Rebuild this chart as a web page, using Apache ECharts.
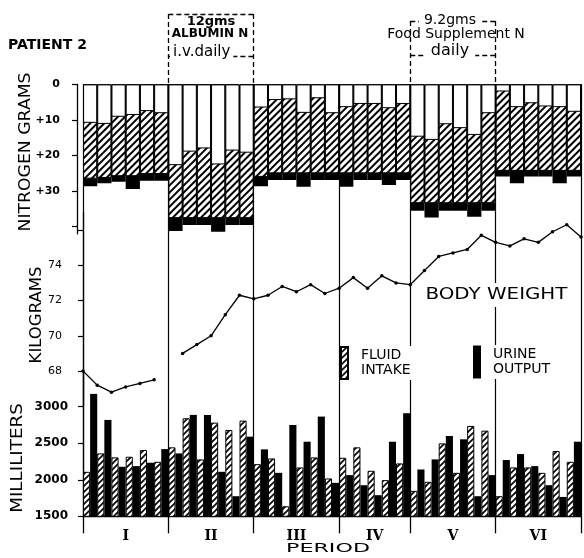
<!DOCTYPE html>
<html>
<head>
<meta charset="utf-8">
<script src="https://cdn.jsdelivr.net/npm/echarts@6.0.0/dist/echarts.min.js"></script>
<style>
html,body{margin:0;padding:0;background:#fff;}
#chart{width:584px;height:558px;}
</style>
</head>
<body>
<div id="chart"></div>
<script>
// ---------------- data ----------------
const periodLabels = ['I', 'II', 'III', 'IV', 'V', 'VI'];
const periodDays = [6, 6, 6, 5, 6, 6];

const nitrogenTickValues = [0, 10, 20, 30, 40];
const nitrogenTickLabels = ['0', '+10', '+20', '+30', ''];
const kgTickValues = [68, 70, 72, 74, 76];
const kgTickLabels = ['68', '70', '72', '74', ''];
const mlTickValues = [1500, 2000, 2500, 3000];
const mlTickLabels = ['1500', '2000', '2500', '3000'];

// Nitrogen grams, plotted downward from the zero line, one value per day
// depth of the white (retained) column = top of the hatched urinary N
const nBalanceDepth = [10.8, 11.1, 9.1, 8.6, 7.5, 8.1,
  22.7, 18.9, 18.0, 22.5, 18.6, 19.2,
  6.5, 4.4, 4.2, 8.0, 3.9, 8.1,
  6.4, 5.5, 5.5, 6.7, 5.5,
  14.7, 15.6, 11.2, 12.3, 14.2, 8.1,
  2.0, 6.4, 5.3, 6.2, 6.4, 7.7];
// bottom of the hatched urinary N
const nUrineDepth = [26.5, 26.3, 25.8, 25.8, 25.2, 25.2,
  37.6, 37.6, 37.6, 37.6, 37.6, 37.6,
  26.0, 25.0, 25.0, 25.0, 25.0, 25.0,
  25.0, 25.0, 25.0, 25.0, 25.0,
  33.4, 33.4, 33.4, 33.4, 33.4, 33.4,
  24.3, 24.3, 24.3, 24.3, 24.3, 24.3];
// bottom of the black (fecal N) = intake
const nIntakeDepth = [28.6, 27.8, 27.4, 29.4, 27.1, 27.1,
  41.2, 39.5, 39.5, 41.4, 39.5, 39.5,
  28.6, 26.9, 26.9, 28.8, 26.9, 26.9,
  28.8, 26.9, 26.9, 28.3, 26.9,
  35.5, 37.4, 35.5, 35.5, 37.2, 35.5,
  25.9, 27.8, 25.9, 25.9, 27.8, 25.9];

// Body weight, kg, at the day boundaries (0 .. 35); no reading at boundary 6
const bodyWeight = [68.0, 67.2, 66.8, 67.1, 67.3, 67.5, null,
  69.0, 69.5, 70.0, 71.2, 72.3, 72.1,
  72.3, 72.8, 72.5, 72.9, 72.4, 72.7,
  73.3, 72.7, 73.4, 73.0, 72.9,
  73.7, 74.5, 74.7, 74.9, 75.7, 75.3,
  75.1, 75.5, 75.3, 75.9, 76.3, 75.6];

// Milliliters per day
const fluidIntake = [2109, 2361, 2306, 2315, 2407, 2246,
  2444, 2842, 2279, 2782, 2682, 2810,
  2214, 2292, 1637, 2169, 2306, 2018,
  2301, 2444, 2123, 1995, 2224,
  1848, 1972, 2498, 2095, 2737, 2672,
  1775, 2169, 2169, 2095, 2393, 2246];
const urineOutput = [3176, 2819, 2178, 2187, 2233, 2420,
  2361, 2888, 2888, 2109, 1775, 2590,
  2416, 2095, 2750, 2521, 2865, 1958,
  2064, 1926, 1789, 2521, 2911,
  2141, 2279, 2599, 2554, 1775, 2064,
  2270, 2352, 2187, 1926, 1765, 2521];

// ---------------- derived helpers ----------------
const bounds = [0];
periodDays.forEach(d => bounds.push(bounds[bounds.length - 1] + d));
const totalDays = bounds[bounds.length - 1];
const days = Array.from({length: totalDays}, (_, i) => String(i + 1));
const periodCenters = periodLabels.map((_, i) => (bounds[i] + bounds[i + 1]) / 2);

const FONT = 'DejaVu Sans';
const INK = '#000';

function hatchPattern() {
  const c = document.createElement('canvas');
  c.width = 6; c.height = 6;
  const g = c.getContext('2d');
  g.fillStyle = '#fff';
  g.fillRect(0, 0, 6, 6);
  g.strokeStyle = '#000';
  g.lineWidth = 1.6;
  g.beginPath();
  g.moveTo(-1, 7); g.lineTo(7, -1);
  g.moveTo(-1, 1); g.lineTo(1, -1);
  g.moveTo(5, 7); g.lineTo(7, 5);
  g.stroke();
  return {image: c, repeat: 'repeat'};
}

function lookup(vals, labels) {
  return v => {
    const i = vals.findIndex(x => Math.abs(x - v) < 1e-6);
    return i >= 0 ? labels[i] : '';
  };
}

function text(str, x, y, size, extra) {
  extra = extra || {};
  return {
    type: 'text', x: x, y: y, z: 100,
    rotation: extra.rotation || 0,
    scaleX: extra.scaleX || 1,
    style: Object.assign({
      text: str,
      font: (extra.weight || 'normal') + ' ' + size + 'px "' + (extra.family || FONT) + '"',
      fill: INK,
      align: extra.align || 'center', textAlign: extra.align || 'center',
      verticalAlign: 'middle', textVerticalAlign: 'middle'
    }, extra.bg ? {backgroundColor: '#fff', padding: extra.pad || [0, 3]} : {})
  };
}

const chart = echarts.init(document.getElementById('chart'), null, {renderer: 'canvas', width: 584, height: 558});

const gridBase = {left: 83, width: 498, outerBoundsMode: 'none', containLabel: false};

const yAxisCommon = {
  type: 'value', offset: 6, splitLine: {show: false},
  axisLine: {show: true, lineStyle: {color: INK, width: 1.3}},
  axisTick: {show: true, inside: false, length: 5, lineStyle: {color: INK, width: 1.2}},
  axisLabel: {color: INK, fontFamily: FONT}
};

const hatchDecal = {
  symbol: 'rect', symbolSize: 1, color: '#000', backgroundColor: '#fff',
  dashArrayX: [1, 0], dashArrayY: [1.6, 2.6], rotation: -Math.PI / 4
};

const option = {
  animation: false,
  backgroundColor: '#fff',
  grid: [
    Object.assign({top: 84.4, height: 149.4}, gridBase),   // nitrogen
    Object.assign({top: 212.4, height: 193.9}, gridBase),  // body weight
    Object.assign({top: 370.2, height: 146.1}, gridBase),  // milliliters
    Object.assign({top: 84, height: 432.3}, gridBase),     // period lines
    Object.assign({top: 0, height: 84}, gridBase)          // annotations
  ],
  xAxis: [
    {type: 'category', gridIndex: 0, data: days, show: false},
    {type: 'value', gridIndex: 1, min: 0, max: totalDays, show: false},
    {type: 'category', gridIndex: 2, data: days, show: false},
    {
      type: 'value', gridIndex: 2, min: 0, max: totalDays, position: 'bottom',
      splitLine: {show: false},
      axisLine: {show: true, lineStyle: {color: INK, width: 1.3}},
      axisTick: {show: true, customValues: bounds, length: 17, lineStyle: {color: INK, width: 1.3}},
      axisLabel: {
        customValues: periodCenters, margin: 13, color: INK,
        fontFamily: 'DejaVu Serif', fontWeight: 'bold', fontSize: 14,
        formatter: lookup(periodCenters, periodLabels)
      }
    },
    {type: 'value', gridIndex: 3, min: 0, max: totalDays, show: false},
    {type: 'value', gridIndex: 4, min: 0, max: totalDays, show: false}
  ],
  yAxis: [
    Object.assign({}, yAxisCommon, {
      gridIndex: 0, inverse: true, min: 0, max: 42,
      axisTick: Object.assign({}, yAxisCommon.axisTick, {customValues: nitrogenTickValues}),
      axisLabel: {customValues: nitrogenTickValues, margin: 17, color: INK, fontFamily: FONT, fontSize: 11, fontWeight: 'bold',
        formatter: lookup(nitrogenTickValues, nitrogenTickLabels)}
    }),
    Object.assign({}, yAxisCommon, {
      gridIndex: 1, min: 66, max: 77,
      axisTick: Object.assign({}, yAxisCommon.axisTick, {customValues: kgTickValues}),
      axisLabel: {customValues: kgTickValues, margin: 15, color: INK, fontFamily: FONT, fontSize: 11,
        formatter: lookup(kgTickValues, kgTickLabels)}
    }),
    Object.assign({}, yAxisCommon, {
      gridIndex: 2, min: 1500, max: 3500,
      axisTick: Object.assign({}, yAxisCommon.axisTick, {customValues: mlTickValues}),
      axisLabel: {customValues: mlTickValues, margin: 9, color: INK, fontFamily: FONT, fontSize: 12, fontWeight: 'bold',
        formatter: lookup(mlTickValues, mlTickLabels)}
    }),
    {type: 'value', gridIndex: 3, min: 0, max: 1, show: false},
    {type: 'value', gridIndex: 4, min: 0, max: 84, inverse: true, show: false}
  ],
  legend: [
    {
      data: ['FLUID INTAKE'], left: 340, top: 346, padding: 0, orient: 'vertical',
      itemWidth: 7, itemHeight: 32, icon: 'rect', selectedMode: false,
      formatter: n => n.replace(' ', '\n'),
      textStyle: {fontFamily: FONT, fontSize: 14, lineHeight: 15, color: INK, backgroundColor: '#fff', padding: [2, 2, 2, 8]}
    },
    {
      data: ['URINE OUTPUT'], left: 473, top: 345, padding: 0, orient: 'vertical',
      itemWidth: 8, itemHeight: 33, icon: 'rect', selectedMode: false,
      formatter: n => n.replace(' ', '\n'),
      textStyle: {fontFamily: FONT, fontSize: 14, lineHeight: 15, color: INK, backgroundColor: '#fff', padding: [2, 2, 2, 7]}
    }
  ],
  series: [
    // ---- nitrogen balance (overlaid columns, drawn from the zero line down) ----
    {
      name: 'Nitrogen intake (fecal N)', type: 'bar', xAxisIndex: 0, yAxisIndex: 0,
      data: nIntakeDepth, barCategoryGap: '0%', barGap: '-100%',
      itemStyle: {color: INK, borderColor: INK, borderWidth: 0}
    },
    {
      name: 'Urinary N', type: 'bar', xAxisIndex: 0, yAxisIndex: 0,
      data: nUrineDepth, barCategoryGap: '0%', barGap: '-100%',
      itemStyle: {color: hatchPattern(), borderColor: INK, borderWidth: 1, decal: hatchDecal}
    },
    {
      name: 'Retained N', type: 'bar', xAxisIndex: 0, yAxisIndex: 0,
      data: nBalanceDepth, barCategoryGap: '0%', barGap: '-100%',
      itemStyle: {color: '#fff', borderColor: INK, borderWidth: 1}
    },
    // ---- body weight ----
    {
      name: 'BODY WEIGHT', type: 'line', xAxisIndex: 1, yAxisIndex: 1, z: 5,
      data: bodyWeight.map((w, i) => [i, w]), connectNulls: false,
      symbol: 'circle', symbolSize: 3.5, showSymbol: true, clip: false,
      itemStyle: {color: INK}, lineStyle: {color: INK, width: 1.3}
    },
    // ---- fluid balance ----
    {
      name: 'FLUID INTAKE', type: 'bar', xAxisIndex: 2, yAxisIndex: 2,
      data: fluidIntake, barCategoryGap: '0%', barGap: '0%',
      itemStyle: {color: hatchPattern(), borderColor: INK, borderWidth: 1}
    },
    {
      name: 'URINE OUTPUT', type: 'bar', xAxisIndex: 2, yAxisIndex: 2,
      data: urineOutput, barCategoryGap: '0%', barGap: '0%',
      itemStyle: {color: INK, borderColor: INK, borderWidth: 0}
    },
    // ---- period boundary lines through the whole chart ----
    {
      name: 'Periods', type: 'lines', coordinateSystem: 'cartesian2d', xAxisIndex: 4, yAxisIndex: 3,
      silent: true, z: 3,
      lineStyle: {color: INK, width: 1.2, opacity: 1, type: 'solid'},
      data: bounds.map(b => ({coords: [[b, 0], [b, 1]]}))
    },
    // ---- dashed boxes of the supplement periods ----
    {
      name: 'Supplements', type: 'lines', coordinateSystem: 'cartesian2d', xAxisIndex: 5, yAxisIndex: 4,
      silent: true, z: 3,
      lineStyle: {color: INK, width: 1.3, opacity: 1, type: [5, 3]},
      data: [
        {coords: [[bounds[1], 14], [bounds[2], 14]]},
        {coords: [[bounds[1], 14], [bounds[1], 84]]},
        {coords: [[bounds[2], 14], [bounds[2], 84]]},
        {coords: [[bounds[1], 56], [bounds[2], 56]]},
        {coords: [[bounds[4], 21], [bounds[5], 21]]},
        {coords: [[bounds[4], 21], [bounds[4], 84]]},
        {coords: [[bounds[5], 21], [bounds[5], 84]]},
        {coords: [[bounds[4], 55], [bounds[5], 55]]}
      ]
    }
  ],
  graphic: {
    elements: [
      text('PATIENT 2', 8, 45, 14, {align: 'left', weight: 'bold'}),
      text('NITROGEN GRAMS', 26, 152, 15, {rotation: Math.PI / 2, scaleX: 1.15}),
      text('KILOGRAMS', 37, 315, 15, {rotation: Math.PI / 2, scaleX: 1.1}),
      text('MILLILITERS', 18, 458, 15, {rotation: Math.PI / 2, scaleX: 1.22}),
      text('PERIOD', 328, 549, 12, {scaleX: 1.85}),
      text('BODY WEIGHT', 423, 295, 16, {align: 'left', scaleX: 1.24, bg: true, pad: [4, 2]}),
      text('12gms', 211, 22, 13, {weight: 'bold'}),
      text('ALBUMIN N', 210, 34, 12, {weight: 'bold'}),
      text('i.v.daily', 170, 52, 15, {align: 'left', bg: true, pad: [0, 3]}),
      text('9.2gms', 450, 20, 14, {bg: true, pad: [0, 5]}),
      text('Food Supplement N', 456, 34, 14),
      text('daily', 450, 51, 16, {bg: true, pad: [0, 6]})
    ]
  }
};

chart.setOption(option);
</script>
</body>
</html>
